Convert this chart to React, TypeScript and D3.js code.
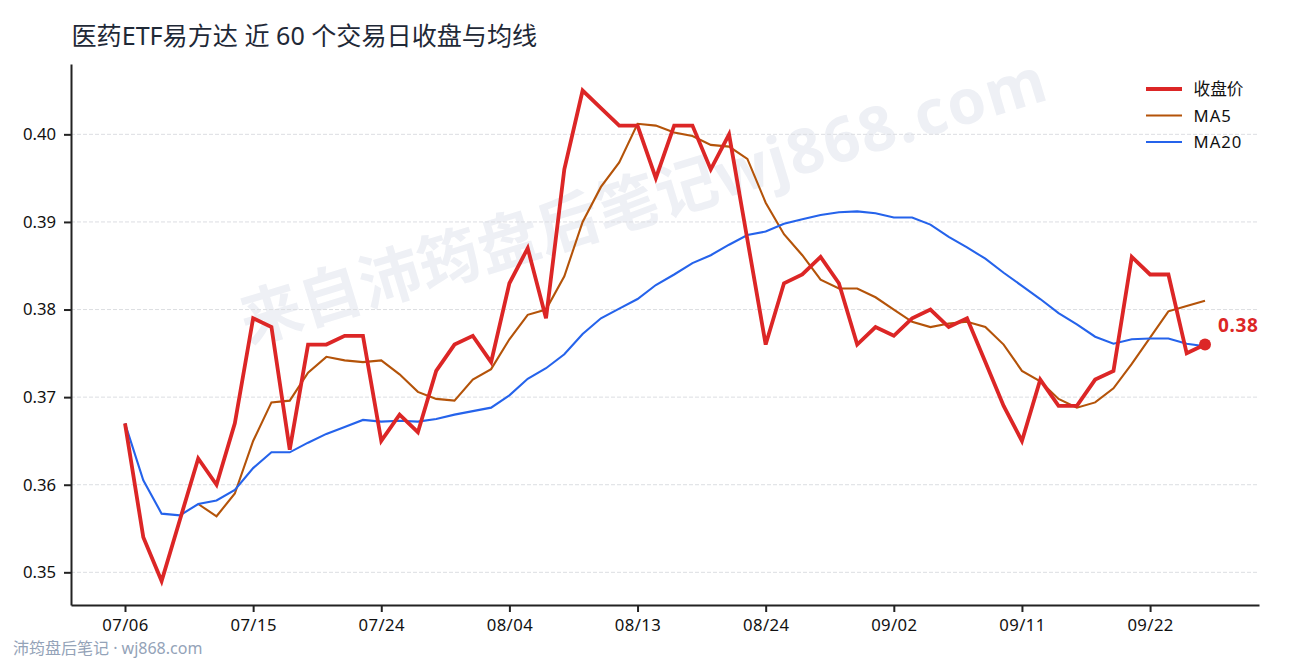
import { useEffect, useRef } from "react";
import * as d3 from "d3";

const closePrices = [
  0.367, 0.354, 0.349, 0.356, 0.363, 0.36, 0.367, 0.379, 0.378, 0.364,
  0.376, 0.376, 0.377, 0.377, 0.365, 0.368, 0.366, 0.373, 0.376, 0.377,
  0.374, 0.383, 0.387, 0.379, 0.396, 0.405, 0.403, 0.401, 0.401, 0.395,
  0.401, 0.401, 0.396, 0.4, 0.388, 0.376, 0.383, 0.384, 0.386, 0.383,
  0.376, 0.378, 0.377, 0.379, 0.38, 0.378, 0.379, 0.374, 0.369, 0.365,
  0.372, 0.369, 0.369, 0.372, 0.373, 0.386, 0.384, 0.384, 0.375, 0.376,
];

// MA5 only starts on the fifth trading day
const ma5: (number | null)[] = [
  null, null, null, null, 0.3578, 0.3564, 0.359, 0.365, 0.3694, 0.3696,
  0.3728, 0.3746, 0.3742, 0.374, 0.3742, 0.3726, 0.3706, 0.3698, 0.3696, 0.372,
  0.3732, 0.3766, 0.3794, 0.38, 0.3838, 0.39, 0.394, 0.3968, 0.4012, 0.401,
  0.4002, 0.3998, 0.3988, 0.3986, 0.3972, 0.3922, 0.3886, 0.3862, 0.3834, 0.3824,
  0.3824, 0.3814, 0.38, 0.3786, 0.378, 0.3784, 0.3786, 0.378, 0.376, 0.373,
  0.3718, 0.3698, 0.3688, 0.3694, 0.371, 0.3738, 0.3768, 0.3798, 0.3804, 0.381,
];

const ma20 = [
  0.367, 0.3605, 0.3567, 0.3565, 0.3578, 0.3582, 0.3594, 0.3619, 0.3637, 0.3637,
  0.3648, 0.3658, 0.3666, 0.3674, 0.3672, 0.3673, 0.3672, 0.3675, 0.368, 0.3684,
  0.3688, 0.3702, 0.3721, 0.3733, 0.3749, 0.3772, 0.379, 0.3801, 0.3812, 0.3828,
  0.384, 0.3853, 0.3862, 0.3874, 0.3885, 0.3889, 0.3898, 0.3903, 0.3908, 0.3911,
  0.3912, 0.391, 0.3905, 0.3905, 0.3897, 0.3883, 0.3871, 0.3858, 0.3842, 0.3827,
  0.3812, 0.3796, 0.3783, 0.3769, 0.3761, 0.3766, 0.3767, 0.3767, 0.3761, 0.3758,
];

const xTickLabels = ["07/06", "07/15", "07/24", "08/04", "08/13", "08/24", "09/02", "09/11", "09/22"];
const yTicks = [0.35, 0.36, 0.37, 0.38, 0.39, 0.4];
const legendItems = [
  { label: "收盘价", color: "#dc2626", width: 3.8 },
  { label: "MA5", color: "#b45309", width: 2.1 },
  { label: "MA20", color: "#2563eb", width: 2.1 },
];

const WIDTH = 1290;
const HEIGHT = 660;
const FONT = '"Noto Sans", "Noto Sans CJK SC", sans-serif';

export default function App() {
  const svgRef = useRef<SVGSVGElement>(null);

  useEffect(() => {
    document.body.style.margin = "0";
    if (!svgRef.current) return;

    const svg = d3.select(svgRef.current);
    svg.selectAll("*").remove();

    const margin = { top: 64, right: 31, bottom: 55, left: 71 };
    const bottomY = HEIGHT - margin.bottom;
    const rightX = WIDTH - margin.right;

    const lastIndex = closePrices.length - 1;
    const x = d3
      .scaleLinear()
      .domain([-lastIndex * 0.05, lastIndex * 1.05])
      .range([margin.left, rightX]);
    const y = d3.scaleLinear().domain([0.34627, 0.40803]).range([bottomY, margin.top]);

    // Watermark goes under everything else
    const watermark = svg
      .append("text")
      .attr("transform", "translate(645,205) rotate(-17)")
      .attr("text-anchor", "middle")
      .attr("dominant-baseline", "middle")
      .attr("font-family", FONT)
      .attr("font-size", 62)
      .attr("font-weight", 700)
      .attr("fill", "#eef0f5");
    watermark.append("tspan").text("来自沛筠盘后笔记");
    watermark.append("tspan").attr("letter-spacing", 2).text("wj868.com");

    // Grid
    svg
      .append("g")
      .selectAll("line")
      .data(yTicks)
      .join("line")
      .attr("x1", margin.left)
      .attr("x2", rightX)
      .attr("y1", (d) => y(d))
      .attr("y2", (d) => y(d))
      .attr("stroke", "#dcdee2")
      .attr("stroke-width", 1)
      .attr("stroke-dasharray", "4,2");

    // Axes
    const xAxis = d3
      .axisBottom(x)
      .tickValues(xTickLabels.map((_, i) => i * 7))
      .tickFormat((_, i) => xTickLabels[i])
      .tickSizeInner(7)
      .tickSizeOuter(0)
      .tickPadding(7);
    const yAxis = d3
      .axisLeft(y)
      .tickValues(yTicks)
      .tickFormat(d3.format(".2f") as any)
      .tickSizeInner(7)
      .tickSizeOuter(0)
      .tickPadding(8);

    const gx = svg.append("g").attr("transform", `translate(0,${bottomY})`).call(xAxis);
    const gy = svg.append("g").attr("transform", `translate(${margin.left},0)`).call(yAxis);

    [gx, gy].forEach((g) => {
      g.selectAll("path.domain").attr("stroke", "#222").attr("stroke-width", 2);
      g.selectAll(".tick line").attr("stroke", "#222").attr("stroke-width", 2);
      g.selectAll("text").attr("font-family", FONT).attr("font-size", 16.7).attr("fill", "#111");
    });
    gx.selectAll("text").attr("letter-spacing", 0.4);

    // Lines
    const line = d3
      .line<number | null>()
      .defined((d) => d !== null)
      .x((_, i) => x(i))
      .y((d) => y(d as number));

    const series = [
      { values: ma5, color: "#b45309", width: 2.1 },
      { values: ma20, color: "#2563eb", width: 2.1 },
      { values: closePrices, color: "#dc2626", width: 3.8 },
    ];
    series.forEach((s) => {
      svg
        .append("path")
        .attr("d", line(s.values))
        .attr("fill", "none")
        .attr("stroke", s.color)
        .attr("stroke-width", s.width)
        .attr("stroke-linejoin", "miter")
        .attr("stroke-linecap", "butt");
    });

    // Last close marker
    svg
      .append("circle")
      .attr("cx", x(lastIndex))
      .attr("cy", y(closePrices[lastIndex]))
      .attr("r", 6)
      .attr("fill", "#dc2626");
    svg
      .append("text")
      .attr("x", x(lastIndex) + 13)
      .attr("y", y(closePrices[lastIndex]) - 13)
      .attr("font-family", FONT)
      .attr("font-size", 19)
      .attr("font-weight", 700)
      .attr("letter-spacing", 0.6)
      .attr("fill", "#dc2626")
      .text(closePrices[lastIndex].toFixed(2));

    // Legend
    const legend = svg.append("g").attr("transform", "translate(1146,89)");
    legendItems.forEach((item, i) => {
      const row = legend.append("g").attr("transform", `translate(0,${i * 26.5})`);
      row
        .append("line")
        .attr("x2", 36)
        .attr("stroke", item.color)
        .attr("stroke-width", item.width);
      row
        .append("text")
        .attr("x", 47.5)
        .attr("y", 6)
        .attr("font-family", FONT)
        .attr("font-size", 16.7)
        .attr("letter-spacing", item.label.startsWith("MA") ? 1 : 0)
        .attr("fill", "#111")
        .text(item.label);
    });

    // Title and source note
    svg
      .append("text")
      .attr("x", 71.5)
      .attr("y", 45)
      .attr("font-family", FONT)
      .attr("font-size", 25.1)
      .attr("fill", "#1f2937")
      .text("医药ETF易方达 近 60 个交易日收盘与均线");
    svg
      .append("text")
      .attr("x", 13)
      .attr("y", 654)
      .attr("font-family", FONT)
      .attr("font-size", 16)
      .attr("fill", "#94a3b8")
      .text("沛筠盘后笔记 · wj868.com");
  }, []);

  return <svg ref={svgRef} width={WIDTH} height={HEIGHT} style={{ display: "block" }} />;
}
